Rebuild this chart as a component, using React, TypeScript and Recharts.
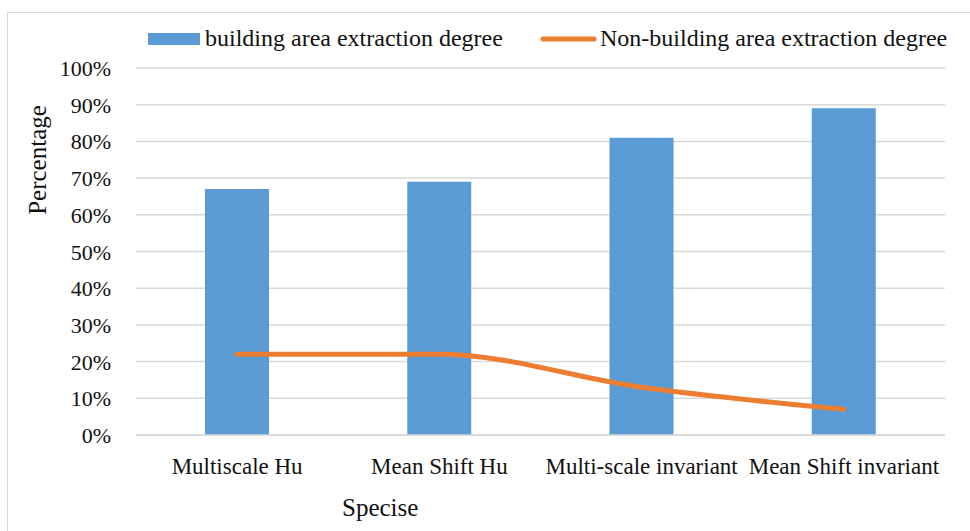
import React from 'react';
import { ComposedChart, Bar, Line, XAxis, YAxis, CartesianGrid, Legend } from 'recharts';

const methods = ['Multiscale Hu', 'Mean Shift Hu', 'Multi-scale invariant', 'Mean Shift invariant'];
const buildingDegree = [67, 69, 81, 89];
const nonBuildingDegree = [22, 22, 13, 7];
const percentTicks = [0, 10, 20, 30, 40, 50, 60, 70, 80, 90, 100];

const data = methods.map((name, i) => ({
  name,
  building: buildingDegree[i],
  nonBuilding: nonBuildingDegree[i],
}));

const FONT = "'Liberation Serif', 'Times New Roman', serif";
const BLUE = '#5b9bd5';
const ORANGE = '#ed7d31';
const GRID = '#d9d9d9';
const INK = '#111';

const serif = (size: number) => ({ fontFamily: FONT, fontSize: size, fill: INK });

const LegendContent = () => (
  <svg width={970} height={60} style={{ display: 'block' }}>
    <rect x={148} y={33} width={52} height={12} fill={BLUE} />
    <text x={205} y={46} style={serif(24)}>
      building area extraction degree
    </text>
    <line x1={543} y1={39} x2={594} y2={39} stroke={ORANGE} strokeWidth={5} strokeLinecap="round" />
    <text x={600} y={46} style={serif(24)}>
      Non-building area extraction degree
    </text>
  </svg>
);

const XTick = (props: any) => {
  const { x, y, payload } = props;
  return (
    <text x={x} y={y + 37} textAnchor="middle" style={serif(23)}>
      {payload.value}
    </text>
  );
};

const YTick = (props: any) => {
  const { x, y, payload } = props;
  return (
    <text x={x - 23} y={y + 8} textAnchor="end" style={serif(22)}>
      {`${payload.value}%`}
    </text>
  );
};

export default function App() {
  return (
    <div style={{ position: 'absolute', left: 0, top: 0, width: 970, height: 531, background: '#fff', overflow: 'hidden' }}>
      <div
        style={{
          position: 'absolute',
          left: 7,
          top: 12,
          width: 1000,
          height: 600,
          border: `1.5px solid ${GRID}`,
          boxSizing: 'border-box',
        }}
      />
      <div style={{ position: 'absolute', left: 0, top: 0 }}>
        <ComposedChart
          width={970}
          height={531}
          data={data}
          margin={{ top: 8, right: 25, bottom: 0, left: 0 }}
          barCategoryGap={0}
        >
          <CartesianGrid vertical={false} stroke={GRID} strokeWidth={1.5} />
          <Legend
            verticalAlign="top"
            height={60}
            content={<LegendContent />}
            wrapperStyle={{ position: 'absolute', left: 0, top: 0, width: 970, height: 60 }}
          />
          <XAxis
            dataKey="name"
            height={96}
            axisLine={{ stroke: GRID, strokeWidth: 1.5 }}
            tickLine={false}
            tickSize={0}
            interval={0}
            tick={<XTick />}
            label={{
              value: 'Specise',
              content: () => (
                <text x={342} y={516} style={serif(25)}>
                  Specise
                </text>
              ),
            }}
          />
          <YAxis
            width={136}
            domain={[0, 100]}
            ticks={percentTicks}
            interval={0}
            axisLine={false}
            tickLine={false}
            tickSize={0}
            tick={<YTick />}
            label={{
              value: 'Percentage',
              content: () => (
                <text x={46} y={160} transform="rotate(-90 46 160)" textAnchor="middle" style={serif(25)}>
                  Percentage
                </text>
              ),
            }}
          />
          <Bar dataKey="building" fill={BLUE} barSize={64} isAnimationActive={false} />
          <Line
            dataKey="nonBuilding"
            type="monotone"
            stroke={ORANGE}
            strokeWidth={5}
            strokeLinecap="round"
            dot={false}
            activeDot={false}
            isAnimationActive={false}
          />
        </ComposedChart>
      </div>
    </div>
  );
}
